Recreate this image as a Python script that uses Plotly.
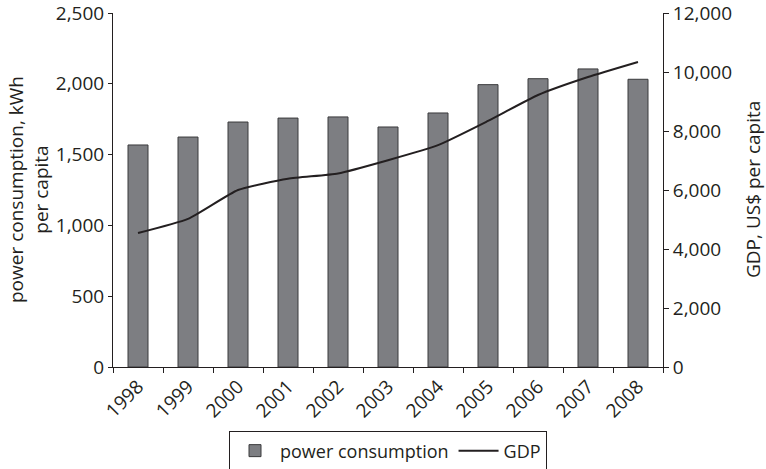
import plotly.graph_objects as go

# data
years = ['1998', '1999', '2000', '2001', '2002', '2003', '2004', '2005', '2006', '2007', '2008']
power = [1568, 1624, 1730, 1758, 1766, 1695, 1794, 1994, 2036, 2105, 2032]
gdp = [4540, 5020, 6000, 6380, 6560, 7010, 7520, 8340, 9220, 9830, 10340]

font_name = 'Open Sans'
ink = '#231f20'

fig = go.Figure()
fig.add_trace(go.Bar(
    x=years, y=power, name='power consumption', width=0.4,
    marker=dict(color='#7d7e82', line=dict(color='#3a3a3c', width=1)),
))
fig.add_trace(go.Scatter(
    x=years, y=gdp, name='GDP', yaxis='y2', mode='lines',
    line=dict(color=ink, width=2, shape='spline', smoothing=0.5),
))

axis_common = dict(showline=True, linecolor=ink, linewidth=1, ticks='outside',
                   tickcolor=ink, showgrid=False, zeroline=False, automargin=False,
                   ticklabeloverflow='allow', tickfont=dict(size=19))

fig.update_layout(
    width=766, height=469,
    margin=dict(l=113, r=103, t=13, b=102, autoexpand=False),
    plot_bgcolor='white', paper_bgcolor='white',
    font=dict(family=font_name, size=19, color=ink),
    showlegend=True,
    legend=dict(orientation='h', x=0.5, xanchor='center', y=-0.182, yanchor='top',
                bordercolor=ink, borderwidth=1, font=dict(size=18),
                itemwidth=40, traceorder='normal'),
    xaxis=dict(axis_common, tickson='boundaries', ticklen=5, tickangle=-45),
    yaxis=dict(axis_common, range=[0, 2500], dtick=500, tickformat=',', ticklen=4),
    yaxis2=dict(axis_common, range=[0, 12000], dtick=2000, tickformat=',',
                overlaying='y', side='right', ticklen=5),
)

# axis titles placed as annotations to match the reference positions
fig.add_annotation(text='power consumption, kWh<br>per capita', xref='paper', yref='paper',
                   x=0, y=0.5, xshift=-85, xanchor='center', yanchor='middle',
                   align='center', textangle=-90, showarrow=False, font=dict(size=19))
fig.add_annotation(text='GDP, US$ per capita', xref='paper', yref='paper',
                   x=1, y=0.5, xshift=90, xanchor='center', yanchor='middle',
                   align='center', textangle=-90, showarrow=False, font=dict(size=19))

# drop the default 8px page margin so the figure sits at the window's corner
fig.write_html('out.html', config={'displayModeBar': False},
               post_script="document.body.style.margin='0';")
